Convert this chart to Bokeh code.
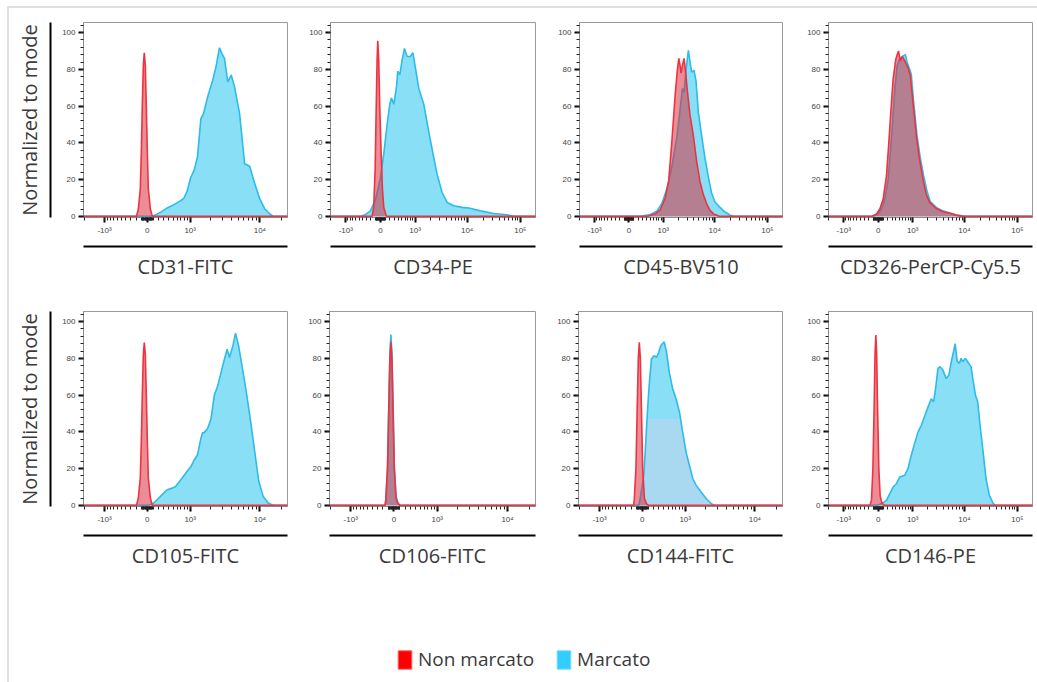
import numpy as np
from bokeh.plotting import figure
from bokeh.models import (Range1d, FixedTicker, LinearAxis, Legend, LegendItem,
                          CustomJSTickFormatter)
from bokeh.layouts import row, column
from bokeh.embed import file_html
from bokeh.resources import INLINE

# ---------------- data ----------------
TITLES = ["CD31-FITC", "CD34-PE", "CD45-BV510", "CD326-PerCP-Cy5.5",
          "CD105-FITC", "CD106-FITC", "CD144-FITC", "CD146-PE"]
SCALE_OF = ["A", "B", "B", "B", "A", "A", "A", "B"]
Y_LABEL = "Normalized to mode"
LEGEND_LABELS = ["Non marcato", "Marcato"]
Y_TICKS = [0, 20, 40, 60, 80, 100]

# CD31-FITC
cd31_non_x = [-2500, -193, -158, -123, -105, -88, -70, -53, -35, -18, 0, 17, 52, 87, 30000]
cd31_non_y = [0, 0, 4, 15, 35, 60, 82, 89, 82, 60, 35, 15, 4, 0, 0]
cd31_mar_x = [-2500, 82, 234, 368, 519, 697, 793, 900, 1022, 1152, 1295, 1457, 1595, 1831, 2165,
              2419, 2705, 2916, 3186, 3553, 3969, 4423, 5206, 6128, 7212, 8489, 9985, 11750,
              13820, 15390, 30000]
cd31_mar_y = [0, 0, 2.2, 4.6, 6.4, 8.6, 10, 14, 21.3, 25, 32.2, 53.2, 55.9, 65, 74,
              81.4, 91.8, 88.7, 86, 73.2, 76.9, 70.5, 55.9, 28.6, 27.3, 17.7, 9.5, 4,
              1.3, 0, 0]

# CD34-PE
cd34_non_x = [-2500, -173, -138, -109, -89, -68, -54, -34, -14, 14, 41, 68, 124, 250000]
cd34_non_y = [0, 0, 5, 25, 55, 85, 95.6, 85, 60, 35, 15, 5, 0, 0]
cd34_mar_x = [-2500, -459, -327, -210, -102, 0, 68, 138, 195, 232, 287, 352, 386, 441, 509,
              582, 671, 794, 902, 1015, 1190, 1500, 1875, 2340, 2710, 3370, 4200, 5615,
              8050, 10750, 17800, 31750, 56500, 75300, 250000]
cd34_mar_y = [0, 0, 1, 3, 9, 21, 34, 50, 61, 64.5, 61, 70, 79, 77, 85,
              91.4, 87, 87, 89, 81, 69.6, 61, 46, 32, 23, 13, 7.6, 5.8,
              4.9, 4.6, 3, 1.6, 0.9, 0, 0]

# CD45-BV510
cd45_non_x = [-2500, 413, 671, 863, 1095, 1290, 1500, 1740, 1928, 2050, 2175, 2270, 2450,
              2595, 2790, 3005, 3375, 3905, 4515, 5220, 6040, 6970, 8040, 9300, 12420, 250000]
cd45_non_y = [0, 0, 1.5, 3.5, 10, 19, 41, 66, 80, 86, 82, 78, 83,
              86, 78, 68, 55, 44, 30, 19, 12, 7, 3.5, 1.5, 0, 0]
cd45_mar_x = [-2500, 248, 509, 731, 935, 1190, 1500, 1872, 2110, 2410, 2595, 2835, 3140, 3375,
              3630, 4020, 4385, 4855, 5615, 6490, 7480, 8650, 10000, 12420, 15400, 19150,
              23800, 250000]
cd45_mar_y = [0, 0, 1, 3, 7, 15, 27, 43, 55, 69.5, 67.5, 80, 90.4, 84,
              78.5, 79.5, 74, 57, 44, 32, 22, 13, 8, 5, 2.5, 0.8,
              0, 0]

# CD326-PerCP-Cy5.5
cd326_non_x = [-2500, -138, -34, 34, 103, 173, 225, 271, 327, 396, 470, 529, 592, 671, 731,
               794, 895, 1015, 1190, 1380, 1616, 1872, 2175, 2920, 3905, 5220, 6970, 9300,
               250000]
cd326_non_y = [0, 0, 1.3, 4, 9.4, 22, 40, 56.5, 74.6, 85.5, 90, 84.6, 87, 84.6, 82.8,
               81, 76.4, 62, 44, 31, 20.3, 12, 7.6, 4.3, 2.5, 1.8, 0.7, 0,
               0]
cd326_mar_x = [-2500, -103, 0, 68, 138, 210, 263, 311, 369, 432, 509, 614, 695, 756, 863,
               935, 1050, 1228, 1427, 1665, 1928, 2240, 2920, 3905, 5220, 6970, 10750, 250000]
cd326_mar_y = [0, 0, 1.3, 4, 9.4, 20, 35.7, 50, 69, 82, 86, 87.3, 88, 84, 80,
               77.5, 62, 44, 32, 22, 14, 8, 4.9, 3, 1.8, 0.7, 0, 0]

# CD105-FITC
cd105_non_x = [-2500, -193, -158, -123, -105, -88, -70, -53, -35, -18, 0, 17, 52, 87, 30000]
cd105_non_y = [0, 0, 4, 15, 35, 60, 82, 88.6, 82, 60, 35, 15, 4, 0, 0]
cd105_mar_x = [-2500, 23, 112, 234, 368, 480, 560, 742, 900, 1022, 1152, 1295, 1457, 1541,
               1634, 1831, 2047, 2289, 2555, 2855, 3186, 3477, 3753, 4190, 4568, 5044, 5621,
               6469, 7452, 8489, 9666, 11124, 13095, 15390, 30000]
cd105_mar_y = [0, 0, 1.3, 4.9, 8.5, 9.4, 10.3, 15, 18.7, 21, 24.7, 27.4, 36.4, 39.6,
               39.6, 41.8, 47, 60, 65, 72.4, 79.6, 85, 80.5, 86.8, 93.7, 86.8, 76,
               61.6, 45.4, 29, 13, 4.9, 1.3, 0, 0]

# CD106-FITC
cd106_non_x = [-2500, -154, -142, -112, -88, -70, -53, -35, -17.5, 6, 35, 70, 106, 30000]
cd106_non_y = [0, 0, 3, 20, 55, 80, 89, 80, 55, 20, 4, 1, 0, 0]
cd106_mar_x = [-2500, -154, -142, -112, -88, -70, -53, -35, -17.5, 6, 35, 70, 106, 30000]
cd106_mar_y = [0, 0, 3, 20, 57, 83, 93, 83, 57, 21, 5, 1, 0, 0]

# CD144-FITC
cd144_non_x = [-2500, -154, -142, -112, -88, -70, -53, -35, -17.5, 6, 35, 70, 106, 30000]
cd144_non_y = [0, 0, 3, 20, 55, 80, 88.8, 80, 55, 20, 4, 1, 0, 0]
cd144_mar_x = [-2500, -58, -29, 0, 29, 58.5, 88, 118, 160, 209, 254, 286, 340, 411, 464, 527,
               613, 705, 808, 911, 1033, 1166, 1312, 1474, 1750, 2073, 2446, 2732, 30000]
cd144_mar_y = [0, 0, 5.4, 10.9, 18, 34, 50.7, 65, 79.7, 81.5, 80.6, 82.4, 87, 89, 83.3, 72.5,
               63.4, 58, 50.7, 39.9, 29, 21.7, 14.5, 10.9, 7.2, 3.6, 0.9, 0, 0]

# CD146-PE
cd146_non_x = [-2500, -173, -138, -109, -82, -64.7, -47.5, -30.5, -13.6, 13.6, 40.8, 75, 124, 250000]
cd146_non_y = [0, 0, 3, 20, 55, 82, 92.7, 82, 55, 20, 5, 1.5, 0, 0]
cd146_mar_x = [-2500, -20, 103, 173, 248, 327, 413, 509, 671, 794, 935, 1095, 1290, 1500, 1872,
               2340, 2595, 2835, 3140, 3473, 3905, 4515, 5070, 5615, 6210, 6670, 7285, 8040,
               8650, 9300, 10450, 11560, 13350, 14370, 16130, 17800, 19730, 22140, 25560,
               29560, 35130, 39420, 250000]
cd146_mar_y = [0, 0, 1.5, 2.7, 6.4, 10, 11.8, 15.5, 16.4, 20, 27.3, 33.6, 40, 43.6, 51,
               58, 56.4, 63.6, 74.5, 75.5, 73.6, 69, 70.9, 78, 83.6, 88, 78.5, 77.3,
               80, 78.2, 80, 78, 75.5, 69, 60, 56.4, 43.6, 31, 14.5,
               5.5, 0.9, 0, 0]

NON = [(cd31_non_x, cd31_non_y), (cd34_non_x, cd34_non_y), (cd45_non_x, cd45_non_y),
       (cd326_non_x, cd326_non_y), (cd105_non_x, cd105_non_y), (cd106_non_x, cd106_non_y),
       (cd144_non_x, cd144_non_y), (cd146_non_x, cd146_non_y)]
MAR = [(cd31_mar_x, cd31_mar_y), (cd34_mar_x, cd34_mar_y), (cd45_mar_x, cd45_mar_y),
       (cd326_mar_x, cd326_mar_y), (cd105_mar_x, cd105_mar_y), (cd106_mar_x, cd106_mar_y),
       (cd144_mar_x, cd144_mar_y), (cd146_mar_x, cd146_mar_y)]
for (a, b) in NON + MAR:
    assert len(a) == len(b)

# ---------------- style ----------------
FONT = "Open Sans"
TICK_FONT = "Liberation Sans"
CYAN_FILL = "#88DFF6"
CYAN_LINE = "#2DBBEA"
BAND_FILL = "#A9D8F1"
RED_FILL = "#DA3040"
RED_LINE = "#EE3340"
TEXT = "#3a3a3a"

# biexponential-like display: arcsinh(v / c)
SCALES = {"A": dict(c=540.0, lo=-2.05, hi=4.5, major=[-1e3, 0, 1e3, 1e4]),
          "B": dict(c=470.0, lo=-2.16, hi=6.71, major=[-1e3, 0, 1e3, 1e4, 1e5])}

FRAME_H = 195
# per panel: frame width, left border, right border, top border, figure height
GEOM = [(204, 83, 10, 19, 290), (205, 33, 10, 19, 290), (203, 34, 10, 22, 290), (204, 36, 5, 19, 290),
        (204, 83, 10, 16, 340), (206, 32, 10, 18, 340), (204, 33, 10, 20, 340), (204, 36, 5, 21, 340)]

FMT_CODE = """
const v = c * Math.sinh(tick);
if (Math.abs(v) < 1) return "0";
const e = Math.round(Math.log10(Math.abs(v)));
const sup = {3: "\u00b3", 4: "\u2074", 5: "\u2075"};
return (v < 0 ? "-" : "") + "10" + sup[e];
"""


def minor_list(sc):
    c = sc["c"]
    vals = []
    for n in range(1, 6):
        for k in range(1, 10):
            vals.append(k * 10 ** n)
            vals.append(-k * 10 ** n)
    t = np.arcsinh(np.array(vals, float) / c)
    t = t[(t > sc["lo"]) & (t < sc["hi"])]
    return sorted(t.tolist())


def blank_axis(label, standoff):
    return LinearAxis(ticker=FixedTicker(ticks=[]), axis_label=label,
                      axis_line_color="black", axis_line_width=2,
                      major_tick_line_color=None, minor_tick_line_color=None,
                      major_tick_out=0, minor_tick_out=0, major_label_standoff=0,
                      major_label_text_font_size="0px",
                      axis_label_text_font=FONT, axis_label_text_font_size="20px",
                      axis_label_text_font_style="normal", axis_label_text_color=TEXT,
                      axis_label_standoff=standoff)


def make_panel(i):
    fw, bl, br, bt, fh = GEOM[i]
    sc = SCALES[SCALE_OF[i]]
    c = sc["c"]
    first_col = i % 4 == 0
    p = figure(frame_width=fw, frame_height=FRAME_H,
               x_range=Range1d(sc["lo"], sc["hi"]), y_range=Range1d(-0.6, 105.5),
               output_backend="svg", toolbar_location=None,
               min_border_left=bl, min_border_right=br, min_border_top=bt,
               min_border_bottom=fh - bt - FRAME_H,
               background_fill_color="white", border_fill_color=None)
    p.grid.visible = False
    p.outline_line_color = "#9a9a9a"
    p.outline_line_width = 1

    xa = p.xaxis[0]
    xa.ticker = FixedTicker(ticks=np.arcsinh(np.array(sc["major"]) / c).tolist(),
                            minor_ticks=minor_list(sc))
    xa.formatter = CustomJSTickFormatter(args=dict(c=c), code=FMT_CODE)
    ya = p.yaxis[0]
    ya.ticker = FixedTicker(ticks=Y_TICKS, minor_ticks=list(range(0, 105, 4)))
    for ax in (xa, ya):
        ax.axis_line_color = "#8a8a8a"
        ax.major_tick_line_color = "black"
        ax.major_tick_line_width = 2
        ax.major_tick_out = 5
        ax.major_tick_in = 0
        ax.minor_tick_line_color = "#222222"
        ax.minor_tick_line_width = 1
        ax.minor_tick_out = 3
        ax.minor_tick_in = 0
        ax.major_label_text_font = TICK_FONT
        ax.major_label_text_font_size = "8px"
        ax.major_label_text_color = "#444444"
        ax.major_label_standoff = 3
    # spacer between tick labels and the underline
    xa.axis_label = " "
    xa.axis_label_text_font_size = "5px"
    xa.axis_label_standoff = 0

    p.add_layout(blank_axis(TITLES[i], 6), "below")
    if first_col:
        ya.axis_label = " "
        ya.axis_label_text_font_size = "6px"
        ya.axis_label_standoff = 0
        p.add_layout(blank_axis(Y_LABEL, 8), "left")

    mx = np.arcsinh(np.array(MAR[i][0], float) / c)
    my = np.array(MAR[i][1], float)
    nx = np.arcsinh(np.array(NON[i][0], float) / c)
    ny = np.array(NON[i][1], float)

    p.patch(mx, my, fill_color=CYAN_FILL, line_color=None)
    if TITLES[i] == "CD144-FITC":
        p.varea(x=mx, y1=np.zeros_like(my), y2=np.minimum(my, 47.0), fill_color=BAND_FILL)
    p.line(mx, my, line_color=CYAN_LINE, line_width=1.6)
    p.patch(nx, ny, fill_color=RED_FILL, fill_alpha=0.55, line_color=None)
    p.line(nx, ny, line_color=RED_LINE, line_width=1.6)
    return p


panels = [make_panel(i) for i in range(8)]

# legend strip (proxy renderers carry no visible data)
lg = figure(frame_width=1037, frame_height=52, x_range=Range1d(0, 1), y_range=Range1d(0, 1),
            x_axis_type=None, y_axis_type=None, output_backend="svg", toolbar_location=None,
            min_border=0, outline_line_color=None, background_fill_color=None,
            border_fill_color=None)
lg.grid.visible = False
nan = [float("nan")]
r_non = lg.quad(left=nan, right=nan, top=nan, bottom=nan, fill_color="#FF0000", line_color="#FF6060")
r_mar = lg.quad(left=nan, right=nan, top=nan, bottom=nan, fill_color="#33CCFF", line_color="#70DAFF")
legend = Legend(items=[LegendItem(label=LEGEND_LABELS[0], renderers=[r_non]),
                       LegendItem(label=LEGEND_LABELS[1], renderers=[r_mar])],
                orientation="horizontal", location=(396, 10),
                glyph_width=17, glyph_height=23, label_height=23, label_standoff=5,
                spacing=21, padding=0, margin=0, border_line_color=None,
                background_fill_alpha=0, label_text_font=FONT,
                label_text_font_size="19px", label_text_color=TEXT)
lg.add_layout(legend)

# light page frame (top and left edges) drawn as the container background
frame_css = ("linear-gradient(#e0e0e0, #e0e0e0) 8px 6px / 1029px 2px no-repeat, "
             "linear-gradient(#e0e0e0, #e0e0e0) 7px 6px / 2px 676px no-repeat, white")

layout = column(row(*panels[:4], spacing=0), row(*panels[4:], spacing=0), lg, spacing=0,
                styles={"background": frame_css})

open("out.html", "w").write(file_html(layout, INLINE))
